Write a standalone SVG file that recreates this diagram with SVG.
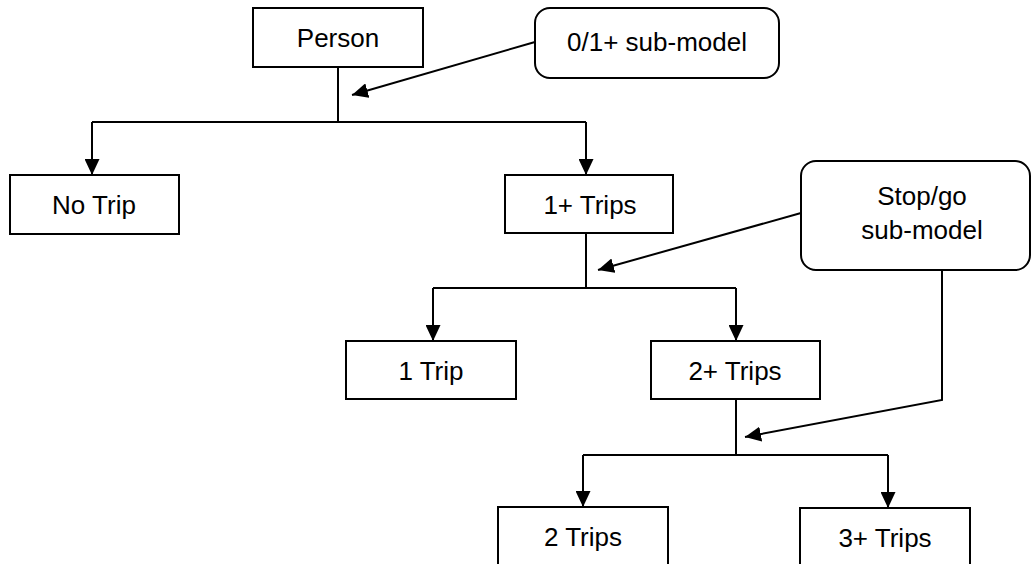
<svg xmlns="http://www.w3.org/2000/svg" width="1032" height="564" viewBox="0 0 1032 564">
<style>
.box{fill:#fff;stroke:#000;stroke-width:2}
.lbl{font-family:"Liberation Sans",Arial,sans-serif;font-size:26px;fill:#000;text-anchor:middle}
.ln{fill:none;stroke:#000;stroke-width:2}
</style>
<defs>
<marker id="ah" markerUnits="userSpaceOnUse" markerWidth="16" markerHeight="15" refX="16" refY="7.5" orient="auto">
<path d="M0,0 L16,7.5 L0,15 z" fill="#000"/>
</marker>
</defs>
<rect width="1032" height="564" fill="#fff"/>
<g id="connectors">
<path class="ln" d="M338,67 V122"/>
<path class="ln" d="M92,122 H586"/>
<path class="ln" d="M92,122 V175" marker-end="url(#ah)"/>
<path class="ln" d="M586,122 V175" marker-end="url(#ah)"/>
<path class="ln" d="M535,42 L352,95" marker-end="url(#ah)"/>
<path class="ln" d="M586,233 V288"/>
<path class="ln" d="M433,288 H736"/>
<path class="ln" d="M433,288 V341" marker-end="url(#ah)"/>
<path class="ln" d="M736,288 V341" marker-end="url(#ah)"/>
<path class="ln" d="M801,213 L598,270" marker-end="url(#ah)"/>
<path class="ln" d="M736,399 V455"/>
<path class="ln" d="M583,455 H888"/>
<path class="ln" d="M583,455 V507" marker-end="url(#ah)"/>
<path class="ln" d="M888,455 V508" marker-end="url(#ah)"/>
<path class="ln" d="M942,270 V400 L745,437" marker-end="url(#ah)"/>
</g>
<g id="person"><rect class="box" x="253" y="8" width="170" height="59"/><text class="lbl" x="338" y="47">Person</text></g>
<g id="submodel01"><rect class="box" x="535" y="8" width="244" height="70" rx="15"/><text class="lbl" x="657" y="51">0/1+ sub-model</text></g>
<g id="notrip"><rect class="box" x="10" y="175" width="169" height="59"/><text class="lbl" x="94" y="214">No Trip</text></g>
<g id="trips1plus"><rect class="box" x="505" y="175" width="168" height="58"/><text class="lbl" x="590" y="214">1+ Trips</text></g>
<g id="stopgo"><rect class="box" x="801" y="161" width="229" height="109" rx="15"/><text class="lbl" x="922" y="205">Stop/go</text><text class="lbl" x="922" y="239">sub-model</text></g>
<g id="trip1"><rect class="box" x="346" y="341" width="170" height="58"/><text class="lbl" x="431" y="380">1 Trip</text></g>
<g id="trips2plus"><rect class="box" x="651" y="341" width="169" height="58"/><text class="lbl" x="735" y="380">2+ Trips</text></g>
<g id="trips2"><rect class="box" x="498" y="507" width="170" height="70"/><text class="lbl" x="583" y="546">2 Trips</text></g>
<g id="trips3plus"><rect class="box" x="800" y="508" width="170" height="70"/><text class="lbl" x="885" y="547">3+ Trips</text></g>
</svg>
